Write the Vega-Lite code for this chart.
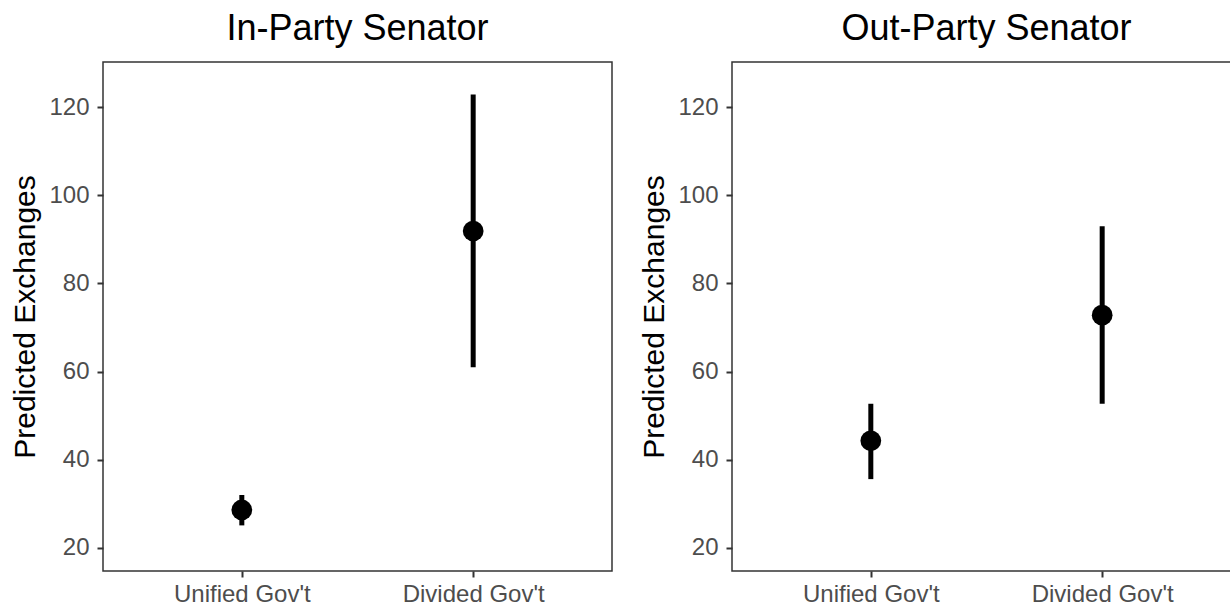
{
  "$schema": "https://vega.github.io/schema/vega-lite/v6.json",
  "padding": {"left": 10, "top": 10, "right": -12, "bottom": 0},
  "bounds": "flush",
  "spacing": 120,
  "datasets": {
    "est": [
      {"panel": "In-Party", "gov": "Unified Gov't", "est": 28.6, "lo": 25.1, "hi": 32.0},
      {"panel": "In-Party", "gov": "Divided Gov't", "est": 91.9, "lo": 61.0, "hi": 122.9},
      {"panel": "Out-Party", "gov": "Unified Gov't", "est": 44.3, "lo": 35.6, "hi": 52.7},
      {"panel": "Out-Party", "gov": "Divided Gov't", "est": 72.8, "lo": 52.7, "hi": 93.0}
    ]
  },
  "config": {
    "font": "Liberation Sans",
    "view": {"stroke": "#333333", "strokeWidth": 1.5},
    "axis": {
      "grid": false, "domain": false,
      "tickColor": "#333333", "tickWidth": 2, "tickSize": 6,
      "labelColor": "#4D4D4D", "labelFontSize": 24,
      "titleFontSize": 30, "titleFontWeight": "normal", "titleColor": "black"
    },
    "title": {"fontSize": 36, "fontWeight": "normal", "color": "black"}
  },
  "hconcat": [
    {
      "width": 509, "height": 509,
      "title": {"text": "In-Party Senator", "anchor": "middle", "offset": 14},
      "data": {"name": "est"},
      "transform": [{"filter": {"field": "panel", "equal": "In-Party"}}],
      "encoding": {
        "x": {"field": "gov", "type": "nominal", "sort": ["Unified Gov't", "Divided Gov't"],
              "scale": {"type": "point", "padding": 0.6},
              "axis": {"title": null, "labelAngle": 0, "labelPadding": 5}}
      },
      "layer": [
        {"mark": {"type": "rule", "strokeWidth": 5, "color": "black"},
         "encoding": {
           "y": {"field": "lo", "type": "quantitative", "title": "Predicted Exchanges",
                 "scale": {"domain": [14.75, 130.25], "nice": false, "zero": false},
                 "axis": {"values": [20, 40, 60, 80, 100, 120], "labelPadding": 8, "titlePadding": 8}},
           "y2": {"field": "hi"}
         }},
        {"mark": {"type": "point", "filled": true, "size": 430, "color": "black", "opacity": 1},
         "encoding": {
           "y": {"field": "est", "type": "quantitative", "title": "Predicted Exchanges",
                 "scale": {"domain": [14.75, 130.25], "nice": false, "zero": false}}
         }}
      ]
    },
    {
      "width": 509, "height": 509,
      "title": {"text": "Out-Party Senator", "anchor": "middle", "offset": 14},
      "data": {"name": "est"},
      "transform": [{"filter": {"field": "panel", "equal": "Out-Party"}}],
      "encoding": {
        "x": {"field": "gov", "type": "nominal", "sort": ["Unified Gov't", "Divided Gov't"],
              "scale": {"type": "point", "padding": 0.6},
              "axis": {"title": null, "labelAngle": 0, "labelPadding": 5}}
      },
      "layer": [
        {"mark": {"type": "rule", "strokeWidth": 5, "color": "black"},
         "encoding": {
           "y": {"field": "lo", "type": "quantitative", "title": "Predicted Exchanges",
                 "scale": {"domain": [14.75, 130.25], "nice": false, "zero": false},
                 "axis": {"values": [20, 40, 60, 80, 100, 120], "labelPadding": 8, "titlePadding": 8}},
           "y2": {"field": "hi"}
         }},
        {"mark": {"type": "point", "filled": true, "size": 430, "color": "black", "opacity": 1},
         "encoding": {
           "y": {"field": "est", "type": "quantitative", "title": "Predicted Exchanges",
                 "scale": {"domain": [14.75, 130.25], "nice": false, "zero": false}}
         }}
      ]
    }
  ]
}
